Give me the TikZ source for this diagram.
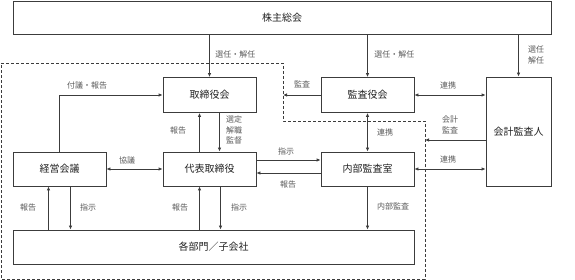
\documentclass[tikz,border=0pt]{standalone}
\usepackage{fontspec}
\setmainfont{Noto Sans CJK JP}
\usetikzlibrary{arrows.meta,positioning}
\definecolor{orgline}{RGB}{60,60,60}
\definecolor{orgtext}{RGB}{35,35,35}
\definecolor{orglabel}{RGB}{90,90,90}

\begin{document}
\begin{tikzpicture}[x=1pt, y=-1pt, line width=0.8pt,
  orgbox/.style={draw=orgline, fill=white, text=orgtext, minimum width=93pt, minimum height=35pt, inner sep=0pt, font=\fontsize{10}{12}\selectfont},
  tag/.style={text=orglabel, inner sep=0pt, align=center, font=\fontsize{8}{10.5}\selectfont},
  arr/.style={draw=orgline, -{Latex[length=4pt,width=3.5pt]}},
  both/.style={draw=orgline, {Latex[length=4pt,width=3.5pt]}-{Latex[length=4pt,width=3.5pt]}}]
\useasboundingbox (0,0) rectangle (575,280);

% Group boundary
\draw[orgline, dash pattern=on 3pt off 2pt] (1,63) -- (283,63) -- (283,121) -- (425,121) -- (425,279) -- (1,279) -- cycle;
\coordinate (bndA) at (283,0);
\coordinate (bndB) at (425,0);

% Boxes
\node[orgbox, minimum width=538pt, minimum height=33pt] (soukai) at (282,17.5) {株主総会};
\node[orgbox] (torishimari) at (209.5,95) {取締役会};
\node[orgbox] (kansayaku) at (367.5,95) {監査役会};
\node[orgbox, minimum width=65pt, minimum height=109pt] (kaikei) at (518.5,131.5) {会計監査人};
\node[orgbox, minimum height=34pt] (keiei) at (59.5,169) {経営会議};
\node[orgbox, minimum height=34pt] (daihyo) at (209.5,169) {代表取締役};
\node[orgbox, minimum height=34pt] (naibu) at (367.5,169) {内部監査室};
\node[orgbox, minimum width=401pt, minimum height=34pt] (bumon) at (213.5,247) {各部門／子会社};

% From the general meeting
\draw[arr] (soukai.south -| torishimari.north) -- (torishimari.north);
\draw[arr] (soukai.south -| kansayaku.north) -- (kansayaku.north);
\draw[arr] (soukai.south -| kaikei.north) -- (kaikei.north);
\node[tag, anchor=west] (tagA) at (215,54) {選任・解任};
\node[tag, anchor=west] (tagB) at (374,54) {選任・解任};
\node[tag] (tagC) at (536,55) {選任\\解任};

% Board and representative director
\draw[arr] (keiei.north) |- (torishimari.west);
\node[tag] (tagD) at (87,85) {付議・報告};
\draw[arr] ([xshift=-10pt]daihyo.north) -- ([xshift=-10pt]torishimari.south);
\node[tag] (tagE) at (178,130) {報告};
\draw[arr] ([xshift=10pt]torishimari.south) -- ([xshift=10pt]daihyo.north);
\node[tag, align=left] (tagF) at (234,130) {選定\\解職\\監督};
\draw[both] (keiei) -- (daihyo);
\node[tag] (tagG) at (127,160) {協議};

% Internal audit
\draw[arr] ([yshift=9pt]daihyo.east) -- ([yshift=9pt]naibu.west);
\node[tag] (tagH) at (286,151) {指示};
\draw[arr] ([yshift=-4pt]naibu.west) -- ([yshift=-4pt]daihyo.east);
\node[tag] (tagI) at (288,184) {報告};

% Auditors
\draw[arr] (kansayaku.west) -- (kansayaku.west -| bndA);
\node[tag] (tagJ) at (302,84) {監査};
\draw[both] (kansayaku.east) -- (kansayaku.east -| kaikei.west);
\node[tag] (tagK) at (448,85) {連携};
\draw[both] (kansayaku) -- (naibu);
\node[tag] (tagL) at (385,132) {連携};
\draw[arr] ([yshift=-8.5pt]kaikei.west) -- ([yshift=-8.5pt]kaikei.west -| bndB);
\node[tag] (tagM) at (450,125) {会計\\監査};
\draw[both] (naibu.east) -- (naibu.east -| kaikei.west);
\node[tag] (tagN) at (448,159) {連携};

% Divisions and subsidiaries
\draw[arr] ([xshift=-11pt]bumon.north -| keiei.south) -- ([xshift=-11pt]keiei.south);
\node[tag] (tagO) at (28,207) {報告};
\draw[arr] ([xshift=11pt]keiei.south) -- ([xshift=11pt]bumon.north -| keiei.south);
\node[tag] (tagP) at (88,207) {指示};
\draw[arr] ([xshift=-10pt]bumon.north -| daihyo.south) -- ([xshift=-10pt]daihyo.south);
\node[tag] (tagQ) at (180,207) {報告};
\draw[arr] ([xshift=11pt]daihyo.south) -- ([xshift=11pt]bumon.north -| daihyo.south);
\node[tag] (tagR) at (239,207) {指示};
\draw[arr] (naibu.south) -- (bumon.north -| naibu.south);
\node[tag] (tagS) at (393,206) {内部監査};
\end{tikzpicture}
\end{document}
